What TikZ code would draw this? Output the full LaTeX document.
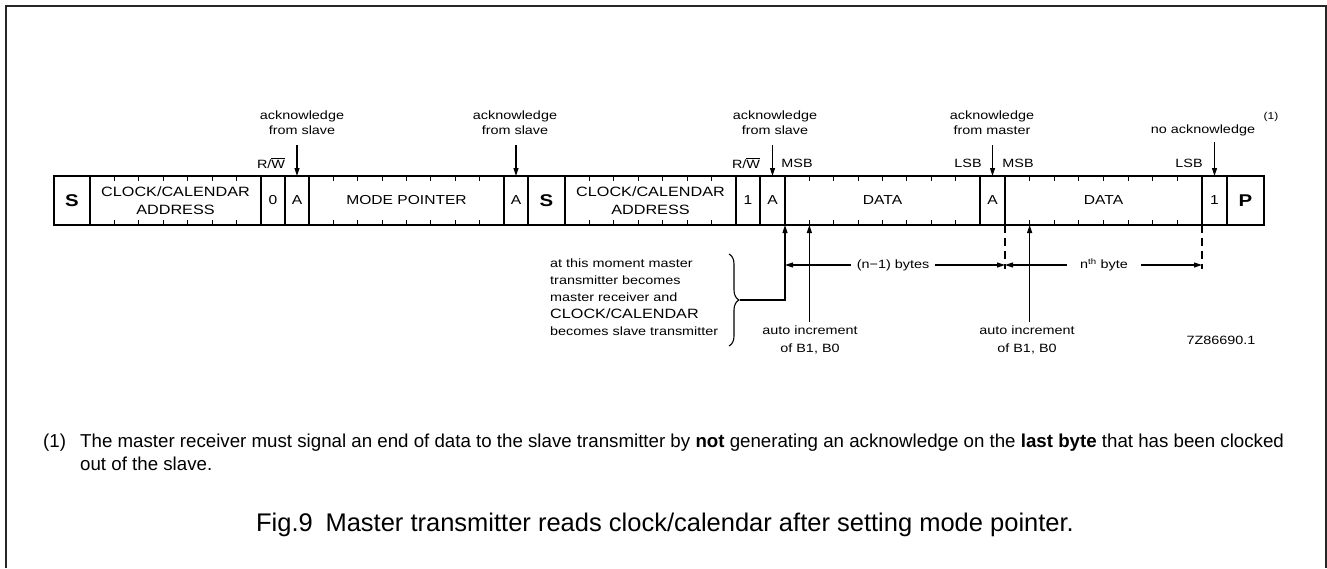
\documentclass[tikz,border=0pt]{standalone}
\usepackage{fontspec}
\setmainfont{Liberation Sans}
\newfontfamily\dfont[FakeStretch=1.2]{Liberation Sans}
\usetikzlibrary{arrows.meta,calc,decorations.pathreplacing}
\begin{document}
\begin{tikzpicture}[x=1pt,y=-1pt,
  cell/.style={draw, line width=1.4pt, minimum height=49pt, inner sep=0pt, outer sep=0pt,
    anchor=north west, align=center, font=\dfont\fontsize{13}{17}\selectfont},
  addr/.style={font=\dfont\fontsize{13.5}{17.5}\selectfont},
  bigl/.style={font=\dfont\bfseries\fontsize{17}{17}\selectfont},
  lbl/.style={font=\dfont\fontsize{12}{15.5}\selectfont, align=center, inner sep=0pt},
  arr/.style={line width=1.1pt, -{Triangle[length=8pt,width=5pt]}},
  tick/.style={line width=1.2pt},
  dsh/.style={line width=1.1pt, dash pattern=on 8pt off 5pt},
  note/.style={font=\fontsize{18.7}{23}\selectfont, inner sep=0pt, anchor=base west}]
\useasboundingbox (0,0) rectangle (1327,568);
% outer frame
\draw[line width=1.8pt, black!85] (6,568) -- (6,6) -- (1326,6) -- (1326,568);

% frame cells
\node[cell, minimum width=36pt, bigl] (s1) at (54,176) {S};
\node[cell, minimum width=171pt, addr] (ad1) at (90,176) {CLOCK/CALENDAR\\ADDRESS};
\node[cell, minimum width=24pt] (rw0) at (261,176) {0};
\node[cell, minimum width=24pt] (a1) at (285,176) {A};
\node[cell, minimum width=195pt] (mp) at (309,176) {MODE POINTER};
\node[cell, minimum width=24pt] (a2) at (504,176) {A};
\node[cell, minimum width=37pt, bigl] (s2) at (528,176) {S};
\node[cell, minimum width=171pt, addr] (ad2) at (565,176) {CLOCK/CALENDAR\\ADDRESS};
\node[cell, minimum width=24pt] (rw1) at (736,176) {1};
\node[cell, minimum width=25pt] (a3) at (760,176) {A};
\node[cell, minimum width=195pt] (d1) at (785,176) {DATA};
\node[cell, minimum width=25pt] (a4) at (980,176) {A};
\node[cell, minimum width=197pt] (d2) at (1005,176) {DATA};
\node[cell, minimum width=25pt] (nk) at (1202,176) {1};
\node[cell, minimum width=37pt, bigl] (pp) at (1227,176) {P};

% bit ticks
\foreach \cc/\nn in {ad1/7,mp/8,ad2/7,d1/8,d2/8}{
  \pgfmathtruncatemacro{\mm}{\nn-1}
  \foreach \kk in {1,...,\mm}{
    \draw[tick] ($(\cc.north west)!{\kk/\nn}!(\cc.north east)$) -- ++(0,5);
    \draw[tick] ($(\cc.south west)!{\kk/\nn}!(\cc.south east)$) -- ++(0,-5);
  }
}

% labels above
\node[lbl] (k1) at (302,122.5) {acknowledge\\from slave};
\node[lbl] (k2) at (515,122.5) {acknowledge\\from slave};
\node[lbl] (k3) at (775,122.5) {acknowledge\\from slave};
\node[lbl] (k4) at (992,122.5) {acknowledge\\from master};
\node[lbl] (k5) at (1203,130) {no acknowledge};
\node[font=\dfont\fontsize{10}{10}\selectfont, inner sep=0pt] (fn1) at (1271,117) {(1)};

\coordinate (t1) at ($(a1.north)+(0,-31)$);
\coordinate (t2) at ($(a2.north)+(0,-31)$);
\coordinate (t3) at ($(a3.north)+(0,-31)$);
\coordinate (t4) at ($(a4.north)+(0,-31)$);
\coordinate (t5) at ($(nk.north)+(0,-34)$);
\draw[arr] (t1) -- (a1.north);
\draw[arr] (t2) -- (a2.north);
\draw[arr] (t3) -- (a3.north);
\draw[arr] (t4) -- (a4.north);
\draw[arr] (t5) -- (nk.north);

\node[lbl] (rwl0) at (271,163) {R/$\overline{\hbox{W}}$};
\node[lbl] (rwl1) at (746,163) {R/$\overline{\hbox{W}}$};
\node[lbl] (msb1) at (797,163) {MSB};
\node[lbl] (lsb1) at (968,163) {LSB};
\node[lbl] (msb2) at (1018,163) {MSB};
\node[lbl] (lsb2) at (1189,163) {LSB};

% brace and explanation
\node[lbl, align=left, anchor=west, font=\dfont\fontsize{12}{17}\selectfont] (nt) at (550,297)
  {at this moment master\\transmitter becomes\\master receiver and\\{\fontsize{13.5}{17}\selectfont CLOCK/CALENDAR}\\becomes slave transmitter};
\draw[line width=1.1pt, decorate, decoration={brace, amplitude=10pt, aspect=0.5}] (729,254) -- (729,346);
\coordinate (bt) at (740,300);
\draw[arr] (bt) -| (a3.south east);

% auto increment
\node[lbl, font=\dfont\fontsize{12}{18}\selectfont] (ai1) at (810,340) {auto increment\\of B1, B0};
\node[lbl, font=\dfont\fontsize{12}{18}\selectfont] (ai2) at (1027,340) {auto increment\\of B1, B0};
\coordinate (u1) at ($(d1.south west)!{1/8}!(d1.south east)+(0,97)$);
\coordinate (u2) at ($(d2.south west)!{1/8}!(d2.south east)+(0,97)$);
\draw[arr] (u1) -- (u1 |- d1.south);
\draw[arr] (u2) -- (u2 |- d2.south);

% dashed byte limits
\coordinate (e1) at ($(a4.south east)+(0,44)$);
\coordinate (e2) at ($(nk.south west)+(0,44)$);
\draw[dsh] (a4.south east) -- (e1);
\draw[dsh] (nk.south west) -- (e2);

% byte arrows
\node[lbl, inner xsep=6pt] (nb) at (893,265) {(n−1) bytes};
\draw[arr] (nb.west) -- (nb.west -| a3.south east);
\draw[arr] (nb.east) -- (nb.east -| a4.south east);
\node[lbl, inner xsep=13pt] (nth) at (1104,265) {n\textsuperscript{th} byte};
\draw[arr] (nth.west) -- (nth.west -| a4.south east);
\draw[arr] (nth.east) -- (nth.east -| nk.south west);

\node[lbl] (id) at (1221,340) {7Z86690.1};

% footnote and caption
\node[note] (fa) at (43,447) {(1)};
\node[note] (fb1) at (80,447) {The master receiver must signal an end of data to the slave transmitter by \textbf{not} generating an acknowledge on the \textbf{last byte} that has been clocked};
\node[note] (fb2) at (80,470) {out of the slave.};
\node[font=\fontsize{25.5}{25.5}\selectfont, inner sep=0pt, anchor=base] (cap) at (665,531)
  {Fig.9\hspace{0.5em}Master transmitter reads clock/calendar after setting mode pointer.};
\end{tikzpicture}
\end{document}
